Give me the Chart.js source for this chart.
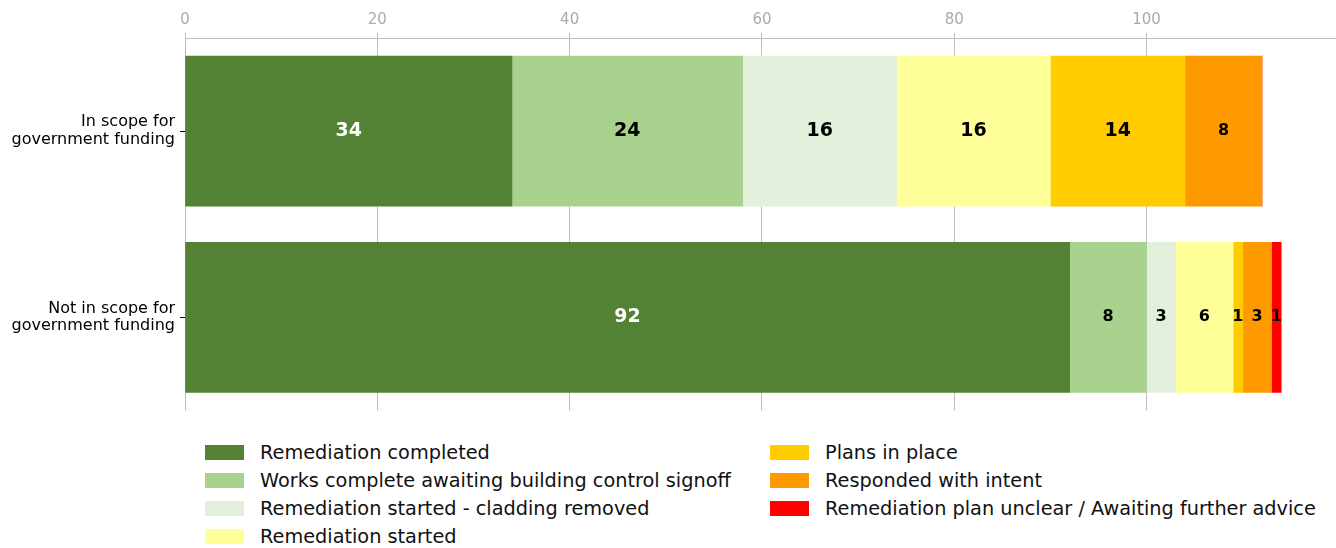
<!DOCTYPE html>
<html lang="en">
<head>
    <meta charset="UTF-8">
    <script src="https://cdn.jsdelivr.net/npm/chart.js"></script>
    <title>Remediation progress</title>
    <style>
        body { margin: 0; background: #fff; font-family: 'DejaVu Sans', sans-serif; }
        .wrap { position: relative; width: 1336px; height: 548px; }
        .chart-box { position: absolute; left: 0; top: 0; width: 1336px; height: 433px; }
        .legend { position: absolute; top: 439px; font-size: 19.3px; color: #111; }
        .legend div { height: 28px; line-height: 28px; white-space: nowrap; position: relative; padding-left: 55px; }
        .legend span { position: absolute; left: 0; top: 6px; width: 39px; height: 15px; }
    </style>
</head>
<body>
<div class="wrap">
    <div class="chart-box"><canvas id="myChart"></canvas></div>
    <div class="legend" id="leg1" style="left:205px"></div>
    <div class="legend" id="leg2" style="left:770px"></div>
</div>

<script>
    const categories = [['In scope for', 'government funding'], ['Not in scope for', 'government funding']];
    const seriesNames = [
        'Remediation completed',
        'Works complete awaiting building control signoff',
        'Remediation started - cladding removed',
        'Remediation started',
        'Plans in place',
        'Responded with intent',
        'Remediation plan unclear / Awaiting further advice'
    ];
    const completed = [34, 92];
    const worksComplete = [24, 8];
    const claddingRemoved = [16, 3];
    const started = [16, 6];
    const plansInPlace = [14, 1];
    const respondedIntent = [8, 3];
    const planUnclear = [0, 1];
    const xTicks = [0, 20, 40, 60, 80, 100];

    const colours = ['#548235', '#a9d18e', '#e2efda', '#ffff99', '#ffcc00', '#ff9900', '#ff0000'];
    const allValues = [completed, worksComplete, claddingRemoved, started, plansInPlace, respondedIntent, planUnclear];

    const datasets = allValues.map((vals, i) => ({
        label: seriesNames[i],
        data: vals,
        backgroundColor: colours[i],
        borderWidth: 0,
        barThickness: 150
    }));

    // numbers in the middle of each segment
    const segLabels = {
        id: 'segLabels',
        afterDatasetsDraw: (chart) => {
            const {ctx} = chart;
            ctx.save();
            ctx.textAlign = 'center';
            ctx.textBaseline = 'middle';
            chart.data.datasets.forEach((ds, di) => {
                const meta = chart.getDatasetMeta(di);
                meta.data.forEach((el, j) => {
                    const v = ds.data[j];
                    if (!v) return;
                    const p = el.getCenterPoint();
                    ctx.font = 'bold ' + (v >= 10 ? 19 : 16) + 'px "DejaVu Sans"';
                    ctx.fillStyle = di === 0 ? '#ffffff' : '#000000';
                    ctx.fillText(String(v), p.x, p.y);
                });
            });
            ctx.restore();
        }
    };

    const ctx = document.getElementById('myChart').getContext('2d');
    new Chart(ctx, {
        type: 'bar',
        data: { labels: categories, datasets: datasets },
        options: {
            indexAxis: 'y',
            responsive: true,
            maintainAspectRatio: false,
            animation: false,
            layout: { padding: 0 },
            plugins: {
                legend: { display: false },
                tooltip: { enabled: false }
            },
            scales: {
                x: {
                    position: 'top',
                    stacked: true,
                    min: 0,
                    max: 119.7,
                    afterBuildTicks: (scale) => {
                        scale.ticks = xTicks.map(v => ({value: v}));
                    },
                    afterFit: (scale) => { scale.height = 38; },
                    ticks: {
                        color: '#aaaaaa',
                        font: { family: 'DejaVu Sans', size: 15, lineHeight: 1.75 },
                        padding: 0,
                        maxRotation: 0
                    },
                    grid: {
                        color: '#bdbdbd',
                        tickLength: 5,
                        lineWidth: 1
                    },
                    border: { color: '#bdbdbd', width: 1 }
                },
                y: {
                    stacked: true,
                    afterFit: (scale) => { scale.width = 185; },
                    ticks: {
                        color: '#000000',
                        font: { family: 'DejaVu Sans', size: 16, lineHeight: 1.1 },
                        padding: 5
                    },
                    grid: {
                        offset: false,
                        drawOnChartArea: false,
                        tickLength: 5,
                        tickColor: '#000000',
                        color: '#000000'
                    },
                    border: { display: false }
                }
            }
        },
        plugins: [segLabels]
    });

    // two-column legend, filled column by column
    seriesNames.forEach((name, i) => {
        const row = document.createElement('div');
        const box = document.createElement('span');
        box.style.background = colours[i];
        row.appendChild(box);
        row.appendChild(document.createTextNode(name));
        document.getElementById(i < 4 ? 'leg1' : 'leg2').appendChild(row);
    });
</script>
</body>
</html>
